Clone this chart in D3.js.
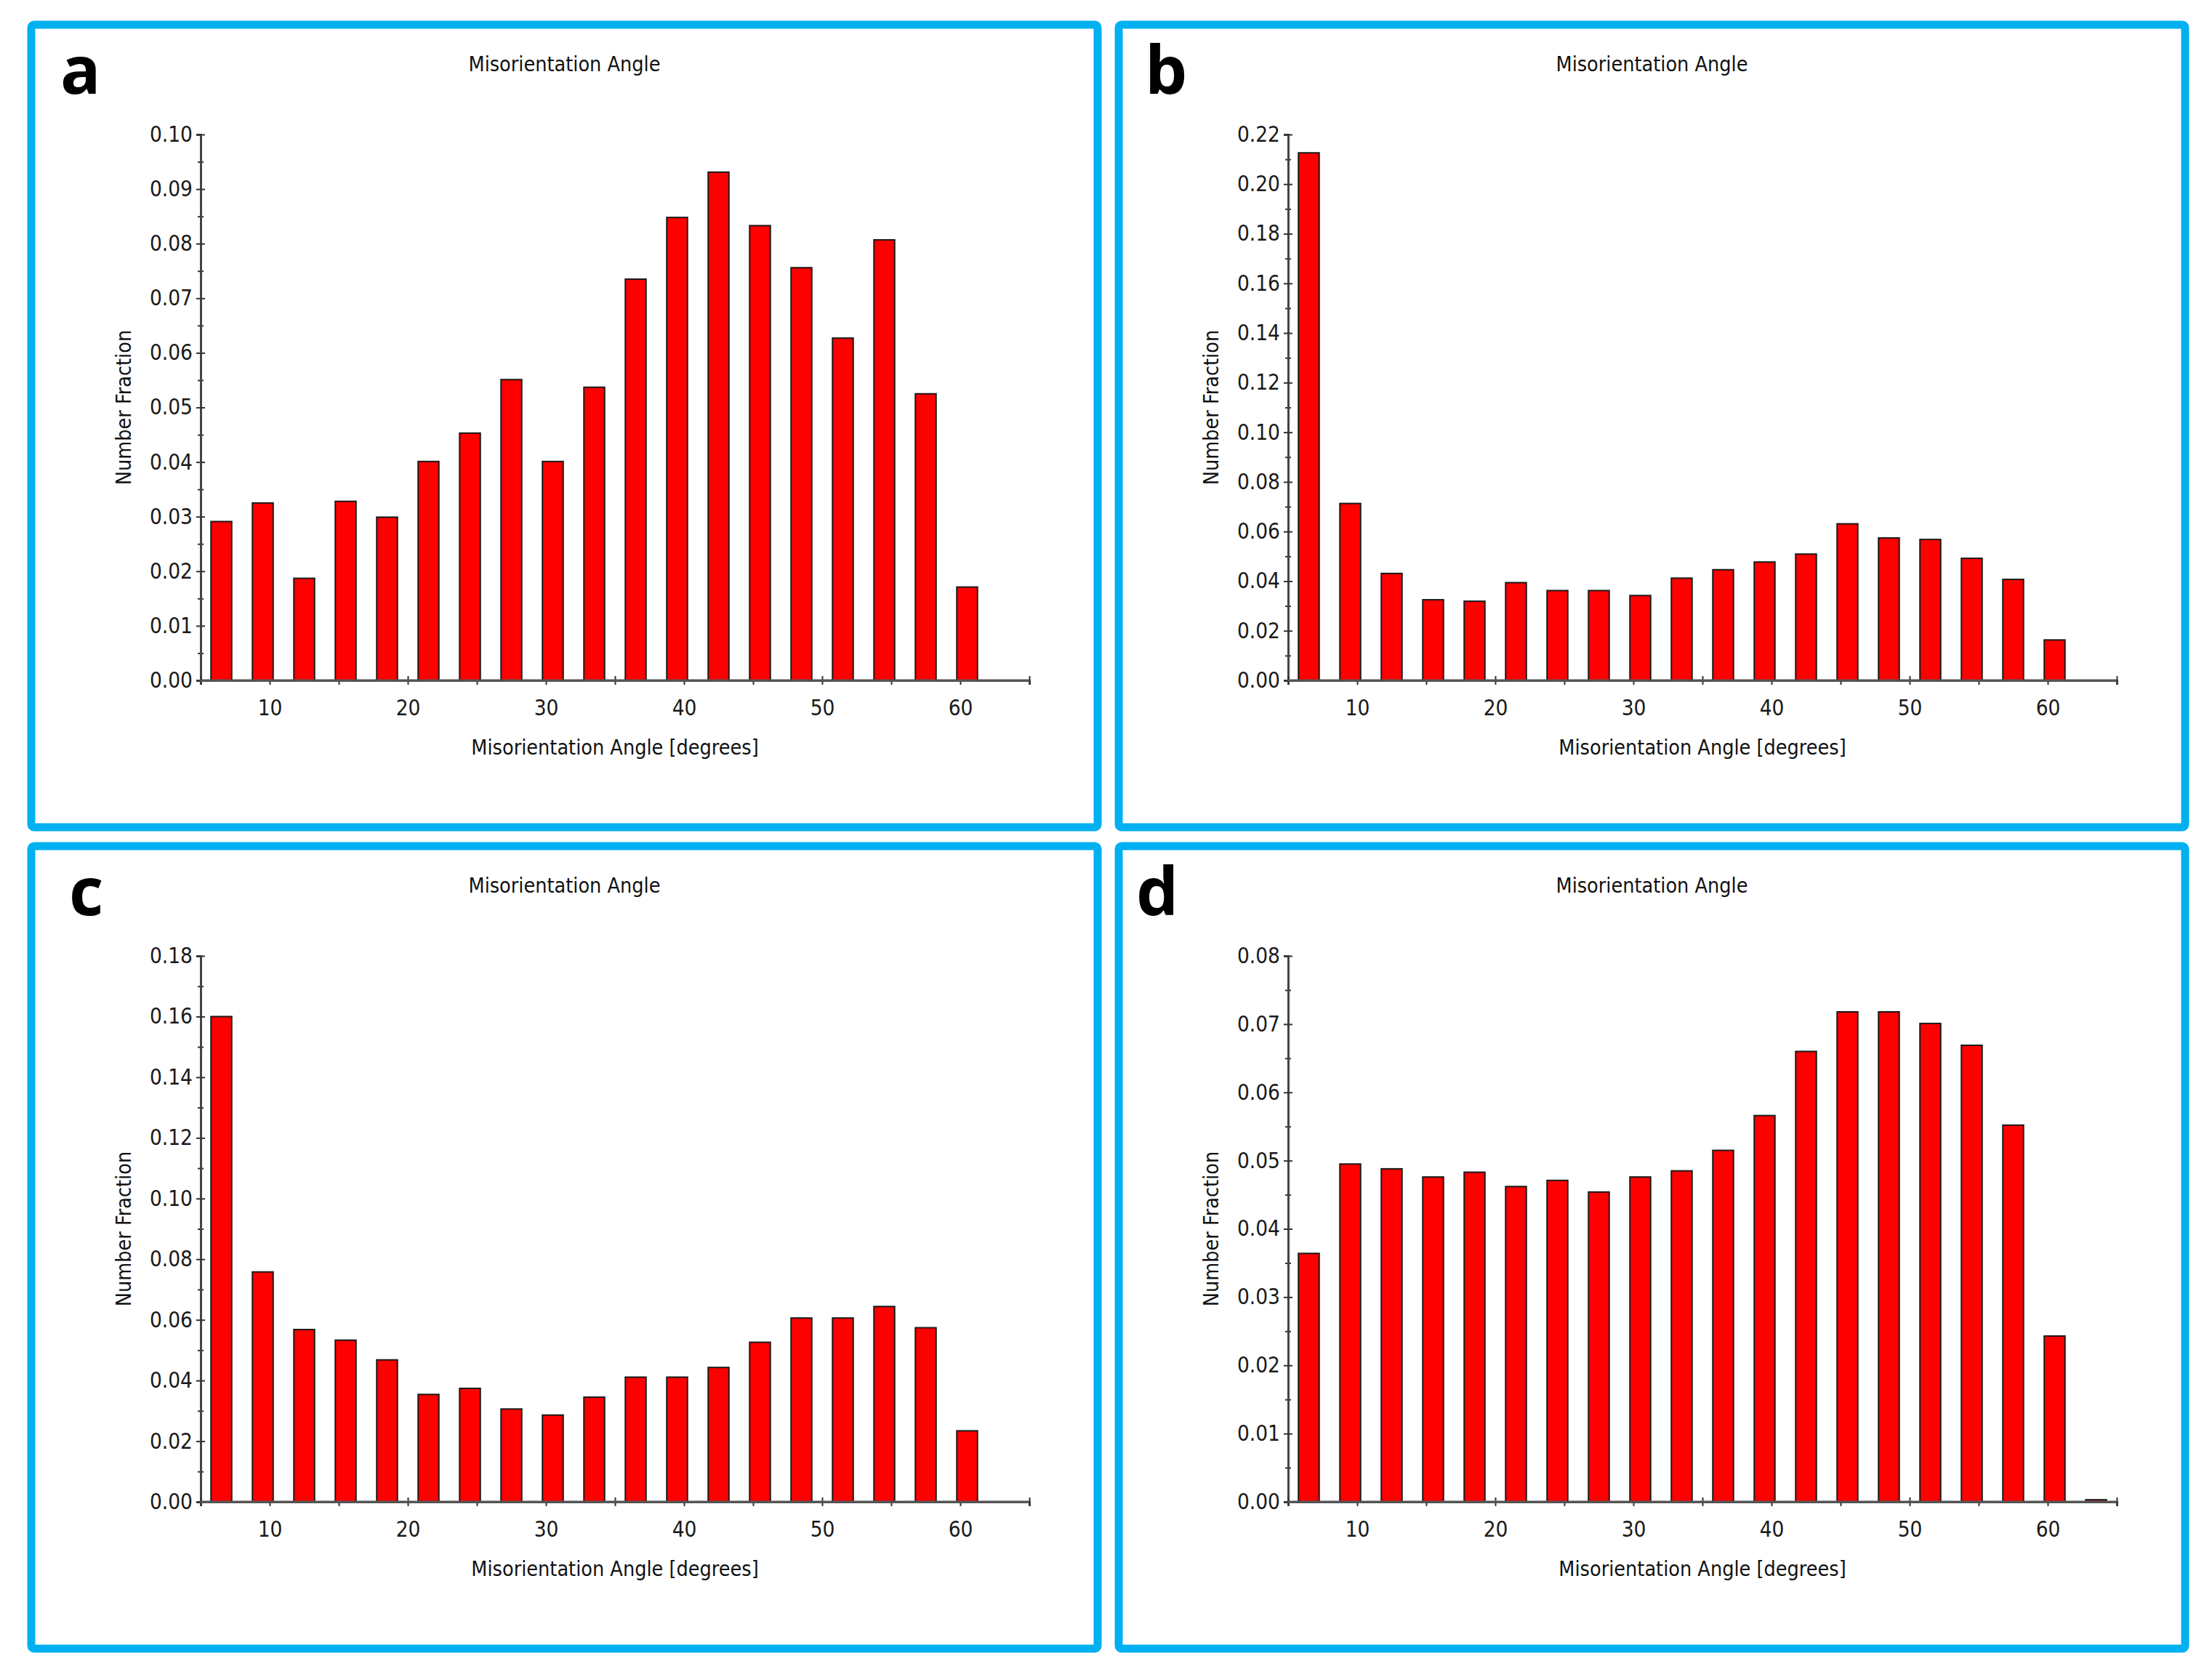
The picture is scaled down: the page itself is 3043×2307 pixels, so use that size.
<!DOCTYPE html>
<html>
<head>
<meta charset="utf-8">
<script src="https://cdn.jsdelivr.net/npm/d3@7"></script>
<style>
  html, body { margin: 0; padding: 0; background: #fff; }
  svg { display: block; }
  .axis text { font-family: "DejaVu Sans Condensed", "DejaVu Sans", sans-serif; font-stretch: condensed; fill: #1a1a1a; }
  .lbl { font-family: "DejaVu Sans Condensed", "DejaVu Sans", sans-serif; font-stretch: condensed; fill: #111; }
</style>
</head>
<body>
<svg id="chart"></svg>
<script>
// ── Data ─────────────────────────────────────────────────────
// bin centres (degrees), 3° bins
const angles = [6.5, 9.5, 12.5, 15.5, 18.5, 21.5, 24.5, 27.5, 30.5, 33.5,
                36.5, 39.5, 42.5, 45.5, 48.5, 51.5, 54.5, 57.5, 60.5, 63.5];

const valuesA = [0.0291, 0.0325, 0.0187, 0.0328, 0.0299, 0.0401, 0.0453, 0.0551, 0.0401, 0.0537,
                 0.0735, 0.0848, 0.0931, 0.0833, 0.0756, 0.0627, 0.0807, 0.0525, 0.0171];
const valuesB = [0.2126, 0.0713, 0.0431, 0.0325, 0.0319, 0.0394, 0.0362, 0.0362, 0.0342, 0.0412,
                 0.0446, 0.0477, 0.0509, 0.0631, 0.0574, 0.0568, 0.0492, 0.0407, 0.0163];
const valuesC = [0.1600, 0.0758, 0.0568, 0.0533, 0.0468, 0.0354, 0.0374, 0.0306, 0.0286, 0.0345,
                 0.0411, 0.0411, 0.0443, 0.0526, 0.0606, 0.0606, 0.0644, 0.0574, 0.0234];
const valuesD = [0.0364, 0.0495, 0.0488, 0.0476, 0.0483, 0.0462, 0.0471, 0.0454, 0.0476, 0.0485,
                 0.0515, 0.0566, 0.0660, 0.0718, 0.0718, 0.0701, 0.0669, 0.0552, 0.0243, 0.0003];

const panelLetters = ['a', 'b', 'c', 'd'];
const yMaxes       = [0.10, 0.22, 0.18, 0.08];
const yMajorSteps  = [0.01, 0.02, 0.02, 0.01];
const xTickValues  = [5, 10, 15, 20, 25, 30, 35, 40, 45, 50, 55, 60, 65];
const xTickLabels  = [10, 20, 30, 40, 50, 60];

const chartTitle = 'Misorientation Angle';
const xTitle     = 'Misorientation Angle [degrees]';
const yTitle     = 'Number Fraction';

// ── Layout ───────────────────────────────────────────────────
const W = 3043, H = 2307;
const colX = [43, 1539], rowY = [34, 1164];
const PW = 1467, PH = 1104;
const plot = { left: 233, top: 151, bottom: 902, right: 1373 };
const letterDx = [40, 36, 52, 24];
const binHalf = 0.75;  // bars are half the bin width

const svg = d3.select('#chart').attr('width', W).attr('height', H);
svg.append('rect').attr('width', W).attr('height', H).attr('fill', '#fff');

const series = [valuesA, valuesB, valuesC, valuesD];

series.forEach((values, i) => {
    const px = colX[i % 2], py = rowY[Math.floor(i / 2)];
    const g = svg.append('g').attr('transform', `translate(${px},${py})`);

    g.append('rect')
        .attr('width', PW).attr('height', PH)
        .attr('rx', 4)
        .attr('fill', '#fff')
        .attr('stroke', '#00b0f0')
        .attr('stroke-width', 11);

    g.append('text')
        .attr('x', letterDx[i]).attr('y', 95)
        .attr('font-family', '"Open Sans", "DejaVu Sans", sans-serif')
        .attr('font-weight', 700)
        .attr('font-size', 92)
        .attr('fill', '#000')
        .text(panelLetters[i]);

    g.append('text').attr('class', 'lbl')
        .attr('x', PW / 2).attr('y', 64)
        .attr('text-anchor', 'middle')
        .attr('font-size', 28.5)
        .text(chartTitle);

    const x = d3.scaleLinear().domain([5, 65]).range([plot.left, plot.right]);
    const y = d3.scaleLinear().domain([0, yMaxes[i]]).range([plot.bottom, plot.top]);

    const step = yMajorSteps[i];
    const nMajor = Math.round(yMaxes[i] / step);
    const majors = d3.range(nMajor + 1).map(k => k * step);
    const minors = d3.range(nMajor).map(k => (k + 0.5) * step);

    // y axis: minor ticks, then labelled majors
    g.append('g').attr('class', 'axis')
        .attr('transform', `translate(${plot.left},0)`)
        .call(d3.axisLeft(y).tickValues(minors).tickFormat('').tickSizeOuter(0).tickSize(4))
        .call(a => a.select('.domain').remove())
        .call(a => a.selectAll('.tick line').attr('x1', 4).attr('stroke', '#333').attr('stroke-width', 2));

    g.append('g').attr('class', 'axis')
        .attr('transform', `translate(${plot.left},0)`)
        .call(d3.axisLeft(y).tickValues(majors).tickFormat(d3.format('.2f'))
            .tickSizeOuter(0).tickSize(6).tickPadding(5))
        .call(a => a.select('.domain').attr('stroke', '#444').attr('stroke-width', 3))
        .call(a => a.selectAll('.tick line').attr('x1', 6).attr('stroke', '#333').attr('stroke-width', 2))
        .call(a => a.selectAll('.tick text').attr('font-size', 29.5));

    // x axis ticks (under the bars)
    g.append('g').attr('class', 'axis')
        .attr('transform', `translate(0,${plot.bottom})`)
        .call(d3.axisBottom(x).tickValues(xTickValues)
            .tickFormat(v => xTickLabels.includes(v) ? v : '')
            .tickSizeOuter(0).tickSize(6).tickPadding(21))
        .call(a => a.select('.domain').attr('stroke', '#555').attr('stroke-width', 3))
        .call(a => a.selectAll('.tick line').attr('y1', -6).attr('stroke', '#333').attr('stroke-width', 2))
        .call(a => a.selectAll('.tick text').attr('font-size', 29.5));

    // bars
    g.append('g')
        .selectAll('rect')
        .data(values)
        .join('rect')
        .attr('x', (d, k) => x(angles[k] - binHalf))
        .attr('width', (d, k) => x(angles[k] + binHalf) - x(angles[k] - binHalf))
        .attr('y', d => y(d))
        .attr('height', d => y(0) - y(d))
        .attr('fill', '#ff0000')
        .attr('stroke', '#1a1a1a')
        .attr('stroke-width', 2);

    // baseline over the bar bottoms
    g.append('line')
        .attr('x1', x(5)).attr('x2', x(65))
        .attr('y1', y(0)).attr('y2', y(0))
        .attr('stroke', '#555').attr('stroke-width', 3);

    g.append('text').attr('class', 'lbl')
        .attr('x', (plot.left + plot.right) / 2).attr('y', plot.bottom + 102)
        .attr('text-anchor', 'middle')
        .attr('font-size', 28.5)
        .text(xTitle);

    g.append('text').attr('class', 'lbl')
        .attr('transform', `translate(${plot.left - 96},${(plot.top + plot.bottom) / 2}) rotate(-90)`)
        .attr('text-anchor', 'middle')
        .attr('font-size', 28.5)
        .text(yTitle);
});
</script>
</body>
</html>
